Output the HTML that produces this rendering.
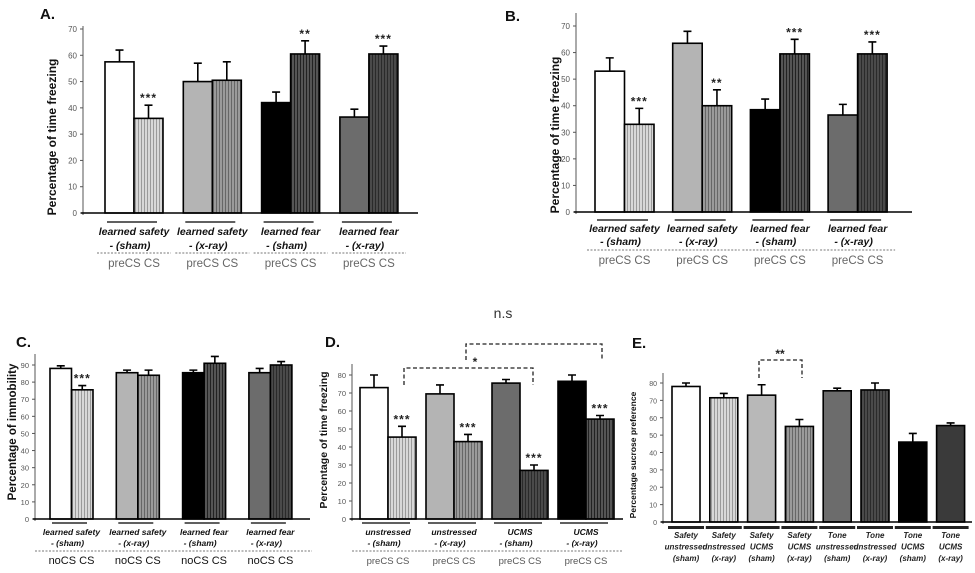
<!DOCTYPE html>
<html><head><meta charset="utf-8"><style>
html,body{margin:0;padding:0;background:#fff;}
svg{display:block;font-family:"Liberation Sans",Arial,sans-serif;}
</style></head><body>
<svg id="fig" width="975" height="573" viewBox="0 0 975 573" xmlns="http://www.w3.org/2000/svg">
<defs>
<pattern id="pLight" width="3" height="4" patternUnits="userSpaceOnUse"><rect width="3" height="4" fill="#d8d8d8"/><rect width="1" height="4" fill="#9a9a9a"/></pattern>
<pattern id="pMid" width="3" height="4" patternUnits="userSpaceOnUse"><rect width="3" height="4" fill="#9a9a9a"/><rect width="1" height="4" fill="#666"/></pattern>
<pattern id="pDark" width="3" height="4" patternUnits="userSpaceOnUse"><rect width="3" height="4" fill="#555"/><rect width="1" height="4" fill="#222"/></pattern>
<pattern id="pDark2" width="3" height="4" patternUnits="userSpaceOnUse"><rect width="3" height="4" fill="#4a4a4a"/><rect width="1" height="4" fill="#2a2a2a"/></pattern>
</defs>
</svg>
<script>
// ---- Panel A data ----
const aGroups = ["learned safety|- (sham)","learned safety|- (x-ray)","learned fear|- (sham)","learned fear|- (x-ray)"];
const aValues = [57.5,36,50,50.5,42,60.5,36.5,60.5];
const aErrTop = [62,41,57,57.5,46,65.5,39.5,63.5];
const aStars = ["","***","","","","**","","***"];
const aTicks = [0,10,20,30,40,50,60,70];
// ---- Panel B data ----
const bGroups = ["learned safety|- (sham)","learned safety|- (x-ray)","learned fear|- (sham)","learned fear|- (x-ray)"];
const bValues = [53,33,63.5,40,38.5,59.5,36.5,59.5];
const bErrTop = [58,39,68,46,42.5,65,40.5,64];
const bStars = ["","***","","**","","***","","***"];
const bTicks = [0,10,20,30,40,50,60,70];
// ---- Panel C data ----
const cGroups = ["learned safety|- (sham)","learned safety|- (x-ray)","learned fear|- (sham)","learned fear|- (x-ray)"];
const cValues = [88,75.5,85.5,84,85.5,91,85.5,90];
const cErrTop = [89.5,78,87,87,87,95,88,92];
const cStars = ["","***","","","","","",""];
const cTicks = [0,10,20,30,40,50,60,70,80,90];
// ---- Panel D data ----
const dGroups = ["unstressed|- (sham)","unstressed|- (x-ray)","UCMS|- (sham)","UCMS|- (x-ray)"];
const dValues = [73,45.5,69.5,43,75.5,27,76.5,55.5];
const dErrTop = [80,51.5,74.5,47,77.5,30,80,57.5];
const dStars = ["","***","","***","","***","","***"];
const dTicks = [0,10,20,30,40,50,60,70,80];
// ---- Panel E data ----
const eCats = ["Safety|unstressed|(sham)","Safety|unstressed|(x-ray)","Safety|UCMS|(sham)","Safety|UCMS|(x-ray)","Tone|unstressed|(sham)","Tone|unstressed|(x-ray)","Tone|UCMS|(sham)","Tone|UCMS|(x-ray)"];
const eValues = [78,71.5,73,55,75.5,76,46,55.5];
const eErrTop = [80,74,79,59,77,80,51,57];
const eTicks = [0,10,20,30,40,50,60,70,80];

const NS="http://www.w3.org/2000/svg";
const svg=document.getElementById('fig');
function mk(tag,attrs,parent){const e=document.createElementNS(NS,tag);for(const k in attrs)e.setAttribute(k,attrs[k]);(parent||svg).appendChild(e);return e;}
function txt(s,attrs,parent){const e=mk('text',attrs,parent);e.textContent=s;return e;}

const fillsABD=[["#fff","url(#pLight)"],["#b4b4b4","url(#pMid)"],["#000","url(#pDark)"],["#6c6c6c","url(#pDark2)"]];
const fillsC=[["#fff","url(#pLight)"],["#b4b4b4","url(#pMid)"],["#000","url(#pDark)"],["#6c6c6c","url(#pDark2)"]];
const fillsD=[["#fff","url(#pLight)"],["#b4b4b4","url(#pMid)"],["#6c6c6c","url(#pDark2)"],["#000","url(#pDark)"]];
const fillsE=["#fff","url(#pLight)","#b8b8b8","url(#pMid)","#6c6c6c","url(#pDark2)","#000","#3a3a3a"];

function panel(cfg){
  const g=mk('g',{});
  
  
  const maxV=cfg.ticks[cfg.ticks.length-1];
  const y=v=>cfg.base-(v/maxV)*(cfg.base-cfg.top);
  // title letter
  const t=txt(cfg.letter,{x:cfg.lx,y:cfg.ly,'font-size':15,'font-weight':'bold',fill:'#111'},g);
  
  
  // y axis
  const ya=mk('line',{x1:cfg.ax,y1:cfg.axTop,x2:cfg.ax,y2:cfg.base+2,stroke:'#555','stroke-width':1},g);
  
  
  cfg.ticks.forEach(v=>{
    mk('line',{x1:cfg.ax-3,y1:y(v),x2:cfg.ax,y2:y(v),stroke:'#555'},g);
    const tl=txt(String(v),{x:cfg.ax-6,y:y(v)+3,'font-size':cfg.tickFs||8,fill:'#555','text-anchor':'end'},g);
    
    
  });
  const yt=txt(cfg.ytitle,{x:0,y:0,'font-size':cfg.ytFs,'font-weight':'bold',fill:'#111','text-anchor':'middle',transform:`translate(${cfg.ytx},${cfg.yty}) rotate(-90)`},g);
  
  
  // bars
  cfg.values.forEach((v,i)=>{
    const x=cfg.xOf(i), w=cfg.bw;
    const r=mk('rect',{x:x,y:y(v),width:w,height:cfg.base-y(v),fill:cfg.fill(i),stroke:'#000','stroke-width':1.6},g);
    
    
    const cx=x+w/2, et=y(cfg.err[i]);
    const eb=mk('path',{d:`M${cx},${y(v)}V${et}M${cx-4},${et}H${cx+4}`,stroke:'#000','stroke-width':1.6,fill:'none'},g);
    
    
    if(cfg.stars&&cfg.stars[i]){
      const s=txt(cfg.stars[i],{x:cx,y:et-3,'font-size':12,'font-weight':'bold',fill:'#222','text-anchor':'middle','letter-spacing':1},g);
      
      
    }
  });
  // x axis
  const xa=mk('line',{x1:cfg.ax-2,y1:cfg.base,x2:cfg.axEnd,y2:cfg.base,stroke:'#000','stroke-width':1.6},g);
  
  
  return {g,y};
}

function groupLabels(g,cfg){
  cfg.groups.forEach((lab,k)=>{
    const x0=cfg.xOf(k*2), x1=cfg.xOf(k*2+1)+cfg.bw, cx=(x0+x1)/2;
    mk('line',{x1:x0+2,y1:cfg.brY,x2:x1-6,y2:cfg.brY,stroke:'#000','stroke-width':1.3},g);
    const parts=lab.split('|');
    const l1=txt(parts[0],{x:cx,y:cfg.l1Y,'font-size':cfg.labFs,'font-style':'italic','font-weight':'bold',fill:'#111','text-anchor':'middle'},g);
    
    
    const l2=txt(parts[1],{x:cx-4,y:cfg.l2Y,'font-size':cfg.labFs,'font-style':'italic','font-weight':'bold',fill:'#111','text-anchor':'middle'},g);
    
    
    if(!cfg.fullDash) mk('line',{x1:x0-8,y1:cfg.dY,x2:x1+8,y2:cfg.dY,stroke:'#777','stroke-dasharray':'2,1.5'},g);
    const p=txt(cfg.sub[0]+' '+cfg.sub[1],{x:cx,y:cfg.pY,'font-size':cfg.subFs,fill:cfg.subCol,'text-anchor':'middle'},g);
    
    
  });
  if(cfg.fullDash) mk('line',{x1:cfg.fullDash[0],y1:cfg.dY,x2:cfg.fullDash[1],y2:cfg.dY,stroke:'#777','stroke-dasharray':'2,1.5'},g);
}

// Panel A
const A={name:'panel-a',letter:'A.',lx:40,ly:19,ax:83,axTop:26,base:213,top:29,axEnd:418,ticks:aTicks,ytitle:'Percentage of time freezing',ytFs:12,ytx:56,yty:137,
  values:aValues,err:aErrTop,stars:aStars,bw:29,xOf:i=>105+Math.floor(i/2)*78.3+(i%2)*29,fill:i=>fillsABD[Math.floor(i/2)][i%2],
  groups:aGroups,brY:222,l1Y:235,l2Y:249,dY:253,pY:267,labFs:10.5,subFs:11.5,subCol:'#666',sub:['preCS','CS']};
const pa=panel(A); groupLabels(pa.g,A);
// Panel B
const B={name:'panel-b',letter:'B.',lx:505,ly:21,ax:576,axTop:13,base:212,top:26,axEnd:912,ticks:bTicks,ytitle:'Percentage of time freezing',ytFs:12,ytx:559,yty:135,
  values:bValues,err:bErrTop,stars:bStars,bw:29.5,xOf:i=>595+Math.floor(i/2)*77.7+(i%2)*29.5,fill:i=>fillsABD[Math.floor(i/2)][i%2],
  groups:bGroups,brY:220,l1Y:232,l2Y:245,dY:250,pY:264,labFs:10.5,subFs:11.5,subCol:'#666',sub:['preCS','CS']};
const pb=panel(B); groupLabels(pb.g,B);
// Panel C
const C={name:'panel-c',letter:'C.',lx:16,ly:347,ax:35,axTop:354,base:519,top:365,axEnd:310,ticks:cTicks,ytitle:'Percentage of immobility',ytFs:11.5,ytx:16,yty:432,tickFs:7.5,
  values:cValues,err:cErrTop,stars:cStars,bw:21.5,xOf:i=>50+Math.floor(i/2)*66.3+(i%2)*21.5,fill:i=>fillsC[Math.floor(i/2)][i%2],
  groups:cGroups,brY:523,l1Y:535,l2Y:546,dY:551,pY:564,labFs:8.5,subFs:11,subCol:'#111',sub:['noCS','CS'],fullDash:[35,312]};
const pc=panel(C); groupLabels(pc.g,C);
// Panel D
const D={name:'panel-d',letter:'D.',lx:325,ly:347,ax:352,axTop:364,base:519,top:375,axEnd:623,ticks:dTicks,ytitle:'Percentage of time freezing',ytFs:10.5,ytx:327,yty:440,tickFs:7.5,
  values:dValues,err:dErrTop,stars:dStars,bw:28,xOf:i=>360+Math.floor(i/2)*66+(i%2)*28,fill:i=>fillsD[Math.floor(i/2)][i%2],
  groups:dGroups,brY:523,l1Y:535,l2Y:546,dY:551,pY:564,labFs:8.5,subFs:9.5,subCol:'#555',sub:['preCS','CS']};
const pd=panel(D); groupLabels(pd.g,D);
const br1=mk('path',{d:'M404,385V368H533V385',fill:'none',stroke:'#222','stroke-width':1.3,'stroke-dasharray':'4,2.5'},pd.g);


const s1=txt('*',{x:475,y:366,'font-size':12,'font-weight':'bold',fill:'#222','text-anchor':'middle'},pd.g);


const br2=mk('path',{d:'M466,360V344H602V360',fill:'none',stroke:'#222','stroke-width':1.3,'stroke-dasharray':'4,2.5'},pd.g);


const ns=txt('n.s',{x:503,y:318,'font-size':14,fill:'#333','text-anchor':'middle'},pd.g);


// Panel E
const E={name:'panel-e',letter:'E.',lx:632,ly:348,ax:663,axTop:373,base:522,top:383,axEnd:972,ticks:eTicks,ytitle:'Percentage sucrose preference',ytFs:8.5,ytx:636,yty:455,tickFs:7,
  values:eValues,err:eErrTop,stars:null,bw:28,xOf:i=>672+i*37.8,fill:i=>fillsE[i]};
const pe=panel(E);
eCats.forEach((lab,i)=>{
  const x=E.xOf(i), cx=x+E.bw/2;
  mk('rect',{x:x-4,y:526,width:E.bw+8,height:3,fill:'#222'},pe.g);
  lab.split('|').forEach((s,j)=>{
    const t=txt(s,{x:cx,y:538+j*11.5,'font-size':8,'font-style':'italic','font-weight':'bold',fill:'#222','text-anchor':'middle'},pe.g);
    
    
  });
});
const br3=mk('path',{d:'M759,378V360H802V378',fill:'none',stroke:'#222','stroke-width':1.3,'stroke-dasharray':'4,2.5'},pe.g);


const s3=txt('**',{x:780,y:358,'font-size':12,'font-weight':'bold',fill:'#222','text-anchor':'middle'},pe.g);


</script>
</body></html>
